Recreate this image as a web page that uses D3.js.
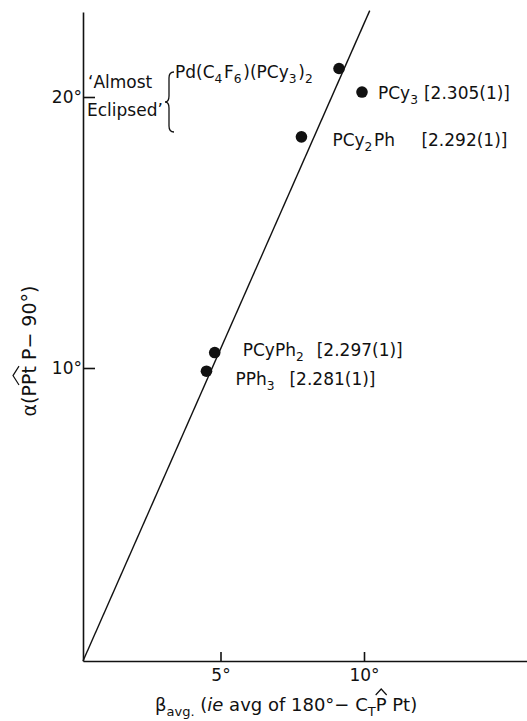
<!DOCTYPE html>
<html>
<head>
<meta charset="utf-8">
<script src="https://cdn.jsdelivr.net/npm/d3@7"></script>
<style>
body { margin: 0; background: #fff; }
svg { display: block; }
text { font-family: "DejaVu Sans", "Liberation Sans", sans-serif; fill: #111; }
</style>
</head>
<body>
<svg></svg>
<script>
var width = 527
var height = 721

// compounds, Pt-P bond length [A], beta_avg and alpha (degrees)
var compounds = ["PPh_3", "PCyPh_2", "PCy_2Ph", "PCy_3", "Pd(C_4F_6)(PCy_3)_2"]
var bondLengths = ["2.281(1)", "2.297(1)", "2.292(1)", "2.305(1)", ""]
var beta = [4.49, 4.79, 7.82, 9.93, 9.13]
var alpha = [9.89, 10.57, 18.53, 20.18, 21.04]
var fitBeta = [0, 10.2]
var fitAlpha = [0, 23.15]
var xTicks = [5, 10]
var yTicks = [10, 20]

var data = compounds.map((c, i) => ({
    name: c, bond: bondLengths[i], beta: beta[i], alpha: alpha[i]
}))

// the drawing is hand made, so the axes are not quite even
var xScale = d3.scaleLinear()
    .domain([0, 5, 10, 15.7])
    .range([83, 220.5, 364, 527])

var yScale = d3.scaleLinear()
    .domain([0, 10, 20, 23.1])
    .range([661, 368, 97, 12])

var svg = d3.select("svg")
    .attr("width", width)
    .attr("height", height)

// label offsets from each point: text start, bracket start, baseline
var labelPos = [
    { dx: 29, bx: 54, dy: 14 },
    { dx: 28, bx: 74, dy: 3 },
    { dx: 31, bx: 89, dy: 9 },
    { dx: 16, bx: 46, dy: 7 },
    { dx: -164, bx: 0, dy: 10 }
]

function richText(sel, str, size) {
    var parts = str.split(/(_\w)/).filter(s => s.length)
    parts.forEach(p => {
        if (p[0] === "_") {
            sel.append("tspan").attr("dy", 5).attr("font-size", size * 0.72).text(p[1])
            sel.append("tspan").attr("dy", -5).text("\u200a")
        } else {
            sel.append("tspan").text(p)
        }
    })
}

var xAxis = d3.axisBottom(xScale)
    .tickValues(xTicks)
    .tickSize(-9)
    .tickSizeOuter(0)
    .tickPadding(8)
    .tickFormat(d => d + "°")

var yAxis = d3.axisLeft(yScale)
    .tickValues(yTicks)
    .tickSize(-12)
    .tickSizeOuter(0)
    .tickPadding(1)
    .tickFormat(d => d + "°")

var gx = svg.append("g")
    .attr("transform", `translate(0, ${yScale(0)})`)
    .call(xAxis)

var gy = svg.append("g")
    .attr("transform", `translate(${xScale(0)}, 0)`)
    .call(yAxis)

;[gx, gy].forEach(g => {
    g.selectAll("path, line").attr("stroke", "#111").attr("stroke-width", 1.6)
    g.selectAll("text").attr("font-size", 17).attr("fill", "#111")
        .style("font-family", "DejaVu Sans")
})

// fitted line through the origin
svg.append("line")
    .attr("x1", xScale(fitBeta[0]))
    .attr("y1", yScale(fitAlpha[0]))
    .attr("x2", xScale(fitBeta[1]))
    .attr("y2", yScale(fitAlpha[1]))
    .attr("stroke", "#111")
    .attr("stroke-width", 1.4)

svg.selectAll("circle")
    .data(data)
    .enter()
    .append("circle")
    .attr("cx", d => xScale(d.beta))
    .attr("cy", d => yScale(d.alpha))
    .attr("r", 5.8)
    .attr("fill", "#111")

data.forEach((d, i) => {
    var p = labelPos[i]
    var t = svg.append("text")
        .attr("x", xScale(d.beta) + p.dx)
        .attr("y", yScale(d.alpha) + p.dy)
        .attr("font-size", 17)
    richText(t, d.name, 17)
    if (d.bond) {
        svg.append("text")
            .attr("x", xScale(d.beta) + p.dx + p.bx)
            .attr("y", yScale(d.alpha) + p.dy)
            .attr("font-size", 17)
            .text("[" + d.bond + "]")
    }
})

// 'Almost Eclipsed' note with brace
svg.append("text").attr("x", 88).attr("y", 88).attr("font-size", 17).text("\u2018Almost")
svg.append("text").attr("x", 87).attr("y", 116).attr("font-size", 17).text("Eclipsed\u2019")
svg.append("path")
    .attr("d", "M174,72 Q169,72 169,78 L169,96 Q169,102 165,102 Q169,102 169,108 L169,126 Q169,132 174,132")
    .attr("fill", "none")
    .attr("stroke", "#111")
    .attr("stroke-width", 1.3)

function hat(g, node) {
    var b = node.getBBox()
    var top = b.y + 1
    g.append("path")
        .attr("d", `M${b.x},${top} L${b.x + b.width / 2},${top - 6} L${b.x + b.width},${top}`)
        .attr("fill", "none")
        .attr("stroke", "#111")
        .attr("stroke-width", 1.2)
}

// y axis title
var gyl = svg.append("g").attr("transform", "translate(36, 351) rotate(-90)")
var yl = gyl.append("text").attr("font-size", 19).attr("text-anchor", "middle")
yl.append("tspan").text("α(P")
var ylHat = yl.append("tspan").text("Pt")
yl.append("tspan").text(" P\u2212 90°)")
hat(gyl, ylHat.node())

// x axis title
var xl = svg.append("text").attr("x", 155).attr("y", 711).attr("font-size", 18)
xl.append("tspan").text("β")
xl.append("tspan").attr("dy", 5).attr("font-size", 13).text("avg.")
xl.append("tspan").attr("dy", -5).text(" (")
xl.append("tspan").attr("font-style", "italic").text("ie")
xl.append("tspan").text(" avg of 180°\u2212 C")
xl.append("tspan").attr("dy", 5).attr("font-size", 13).text("T")
var xlHat = xl.append("tspan").attr("dy", -5).text("P")
xl.append("tspan").text(" Pt)")
hat(svg, xlHat.node())
</script>
</body>
</html>
